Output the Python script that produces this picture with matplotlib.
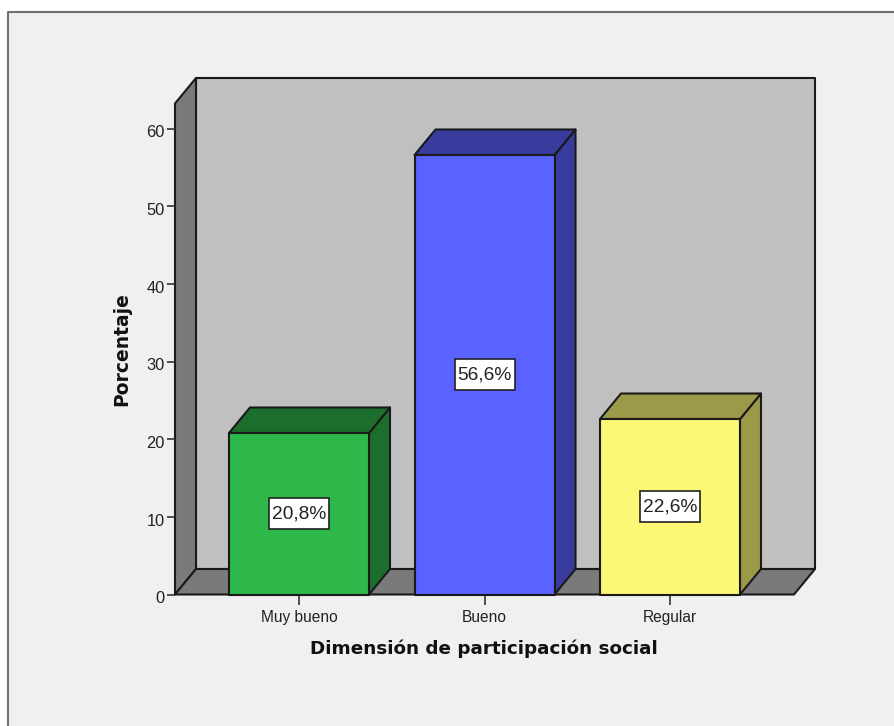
import matplotlib
matplotlib.use("Agg")
import matplotlib.pyplot as plt
from matplotlib.lines import Line2D
from matplotlib.patches import Rectangle, Polygon
from matplotlib.transforms import ScaledTranslation

categories = ["Muy bueno", "Bueno", "Regular"]
values = [20.8, 56.6, 22.6]
value_labels = ["20,8%", "56,6%", "22,6%"]
y_ticks = [0, 10, 20, 30, 40, 50, 60]

front_colors = ["#2eb84a", "#5a62ff", "#fcf774"]
dark_colors = ["#1b6e2c", "#383c9e", "#9c9a48"]
WALL = "#c0c0c0"
SIDE = "#7a7a7a"
EDGE = "#1a1a1a"
BG = "#f0f0f0"

W, H = 894, 726
plt.rcParams["font.family"] = ["Liberation Sans", "DejaVu Sans"]
fig = plt.figure(figsize=(W / 100, H / 100), dpi=100, facecolor="white")

# grey panel with a border on the top and left only, it runs off the image
fig.add_artist(Rectangle((8 / W, 0), 1, 1 - 12 / H, transform=fig.transFigure,
                         facecolor=BG, edgecolor="none", zorder=-2))
fig.add_artist(Line2D([8 / W, 8 / W, 1], [0, 1 - 12 / H, 1 - 12 / H],
                      transform=fig.transFigure, color="#707070", lw=1.5, zorder=-1))

# front plane of the 3d box, in pixels
left, right, bottom, top = 175, 794, 594.5, 103.5
ax = fig.add_axes([left / W, 1 - bottom / H, (right - left) / W, (bottom - top) / H])
ax.patch.set_visible(False)

px_x = 185.5
px_y = 7.765
xmin, xmax = (left - 299) / px_x, (right - 299) / px_x
ymax = (bottom - top) / px_y
ax.set_xlim(xmin, xmax)
ax.set_ylim(0, ymax)

dx = 21 / px_x
dy = 25.5 / px_y
bar_w = 140 / px_x
box_w = 60 / px_x
box_h = 31 / px_y


def face(pts, color, z):
    ax.add_patch(Polygon(pts, closed=True, facecolor=color, edgecolor=EDGE, lw=1.5,
                         clip_on=False, zorder=z, joinstyle="round"))


face([(xmin + dx, dy), (xmax + dx, dy), (xmax + dx, ymax + dy), (xmin + dx, ymax + dy)], WALL, 1)
face([(xmin, 0), (xmin + dx, dy), (xmin + dx, ymax + dy), (xmin, ymax)], SIDE, 1)
face([(xmin, 0), (xmax, 0), (xmax + dx, dy), (xmin + dx, dy)], SIDE, 1)

for i, v in enumerate(values):
    x0, x1 = i - bar_w / 2, i + bar_w / 2
    face([(x1, 0), (x1 + dx, dy), (x1 + dx, v + dy), (x1, v)], dark_colors[i], 2)
    face([(x0, v), (x1, v), (x1 + dx, v + dy), (x0 + dx, v + dy)], dark_colors[i], 2)
    face([(x0, 0), (x1, 0), (x1, v), (x0, v)], front_colors[i], 3)
    # white label box is taller than the text, so it is its own patch
    ax.add_patch(Rectangle((i - box_w / 2, v / 2 - box_h / 2), box_w, box_h, facecolor="white",
                           edgecolor="#222222", lw=1.2, zorder=4))
    ax.text(i, v / 2, value_labels[i], ha="center", va="center", fontsize=13.8,
            color="#222222", zorder=5)

for s in ax.spines.values():
    s.set_visible(False)

ax.set_xticks(range(len(categories)))
ax.set_xticklabels(categories)
ax.set_yticks(y_ticks)
ax.tick_params(axis="x", length=7, width=1.2, color="#333333", labelsize=11.2,
               labelcolor="#222222", pad=4.5)
ax.tick_params(axis="y", length=6, width=1.2, color="#333333", labelsize=11.8,
               labelcolor="#222222", pad=1.5)
# y labels sit a little under their ticks in the original
for lab in ax.get_yticklabels():
    lab.set_transform(lab.get_transform() + ScaledTranslation(0, -2 / 72, fig.dpi_scale_trans))

fig.text(484 / W, 1 - 649 / H, "Dimensión de participación social", ha="center", va="center",
         fontsize=13.2, fontweight="bold", family="DejaVu Sans", color="#111111")
fig.text(122 / W, 1 - 349 / H, "Porcentaje", ha="center", va="center", rotation=90,
         fontsize=13.5, fontweight="bold", family="DejaVu Sans", color="#111111")

fig.savefig("out.png", dpi=100, facecolor=fig.get_facecolor())
